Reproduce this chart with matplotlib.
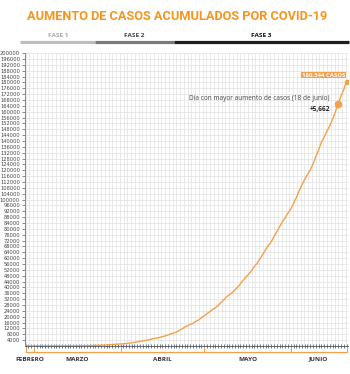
import numpy as np
import pandas as pd
import matplotlib.pyplot as plt
import matplotlib.transforms as mtransforms

# casos acumulados diarios (27 feb - 21 jun)
cases = [1, 4, 5, 5, 5, 5, 5, 6, 6, 7, 7, 7, 8, 12, 16, 26, 41, 53, 82, 93,
         118, 164, 203, 251, 316, 367, 405, 475, 585, 717, 848, 993, 1094,
         1215, 1378, 1510, 1688, 1890, 2143, 2439, 2785, 3181, 3441, 3844,
         4219, 4661, 5014, 5399, 5847, 6297, 6875, 7497, 8261, 8772, 9501,
         10544, 11633, 12872, 13842, 14677, 15529, 16752, 17799, 19224,
         20739, 22088, 23471, 24905, 26025, 27634, 29616, 31522, 33460,
         35022, 36327, 38324, 40186, 42595, 45032, 47144, 49219, 51633,
         54346, 56594, 59567, 62527, 65856, 68620, 71105, 74560, 78023,
         81400, 84627, 87512, 90664, 93435, 97326, 101238, 105680, 110026,
         113619, 117103, 120102, 124301, 129184, 133974, 139196, 142690,
         146837, 150264, 154863, 159793, 165455, 170485, 175202, 180545]
dates = pd.date_range('2020-02-27', periods=len(cases))

months = ['FEBRERO', 'MARZO', 'ABRIL', 'MAYO', 'JUNIO']
month_edges = pd.to_datetime(['2020-02-27', '2020-03-01', '2020-04-01',
                              '2020-05-01', '2020-06-01', '2020-06-21'])

phases = ['FASE 1', 'FASE 2', 'FASE 3']
phase_edges = pd.to_datetime(['2020-02-25', '2020-03-23', '2020-04-20', '2020-06-22'])
phase_colors = ['#bdbdbd', '#7a7a7a', '#1e1e1e']
phase_text = ['#a8a8a8', '#444444', '#111111']

peak_date = pd.Timestamp('2020-06-18')
peak_value = 165455

orange = '#f5a048'

fig = plt.figure(figsize=(3.5, 3.74), dpi=100)
ax = fig.add_axes([0.071, 0.075, 0.923, 0.783])

ax.plot(dates, cases, color=orange, lw=1.0, zorder=3)
ax.plot(dates[-1], cases[-1], 'o', color=orange, ms=3, zorder=4)
ax.plot(peak_date, peak_value, 'o', color=orange, ms=4.5, zorder=4)

ax.set_xlim(dates[0] - pd.Timedelta(days=0.3), dates[-1] + pd.Timedelta(days=0.5))
ax.set_ylim(0, 200000)
ax.set_yticks(np.arange(4000, 200001, 4000))
ax.tick_params(axis='y', labelsize=3.7, labelcolor='#444444', length=2.5,
               width=0.6, color='#777777', pad=1)

# grid
ax.set_xticks(dates, minor=True)
ax.set_xticks([])
ax.tick_params(axis='x', which='minor', direction='inout', length=3,
               width=0.5, color='#3a4a5a')
for gx in np.arange(0, len(cases) + 1, 1.35):
    ax.axvline(dates[0] + pd.Timedelta(days=gx), color='#e2e2e2', lw=0.5, zorder=0)
ax.grid(axis='y', color='#e2e2e2', lw=0.5, zorder=0)
ax.set_axisbelow(True)

for s in ['top', 'right']:
    ax.spines[s].set_visible(False)
ax.spines['left'].set_color('#777777')
ax.spines['left'].set_linewidth(0.6)
ax.spines['bottom'].set_color('#4a5560')
ax.spines['bottom'].set_linewidth(0.6)

trans = mtransforms.blended_transform_factory(ax.transData, ax.transAxes)

# corchete de meses
ax.plot([month_edges[0], month_edges[-1]], [-0.02, -0.02], color=orange,
        lw=0.9, transform=trans, clip_on=False)
for e in month_edges:
    ax.plot([e, e], [-0.02, -0.004], color=orange, lw=0.7,
            transform=trans, clip_on=False)
for i, m in enumerate(months):
    mid = month_edges[i] + (month_edges[i + 1] - month_edges[i]) / 2
    ax.text(mid, -0.045, m, transform=trans, ha='center', va='center',
            fontsize=4.6, color='#333333', fontweight='bold', family='Open Sans')

# fases
for i, p in enumerate(phases):
    ax.plot([phase_edges[i], phase_edges[i + 1]], [1.0375, 1.0375],
            color=phase_colors[i], lw=2.3, transform=trans, clip_on=False,
            solid_capstyle='butt')
    mid = phase_edges[i] + (phase_edges[i + 1] - phase_edges[i]) / 2
    ax.text(mid, 1.06, p, transform=trans, ha='center', va='center',
            fontsize=4.6, color=phase_text[i], fontweight='bold', family='Open Sans')

# anotaciones
ax.annotate('180,544 CASOS', xy=(dates[-1], cases[-1]), xytext=(-1, 3),
            textcoords='offset points', ha='right', va='bottom',
            fontsize=4.3, color='white', fontweight='bold', family='Open Sans',
            bbox=dict(boxstyle='square,pad=0.15', fc=orange, ec='none'))
ax.annotate('Día con mayor aumento de casos (18 de junio)', xy=(peak_date, peak_value),
            xytext=(-6, 1), textcoords='offset points', ha='right', va='bottom',
            fontsize=4.7, color='#444444', family='Open Sans')
ax.annotate('+5,662', xy=(peak_date, peak_value), xytext=(-6, -1.5),
            textcoords='offset points', ha='right', va='top',
            fontsize=4.7, color='#222222', fontweight='bold', family='Open Sans')

fig.text(0.506, 0.957, 'AUMENTO DE CASOS ACUMULADOS POR COVID-19', ha='center',
         va='center', fontsize=9.2, color='#f7941d', fontweight='bold',
         family='Roboto')

fig.savefig('out.png', dpi=100)
